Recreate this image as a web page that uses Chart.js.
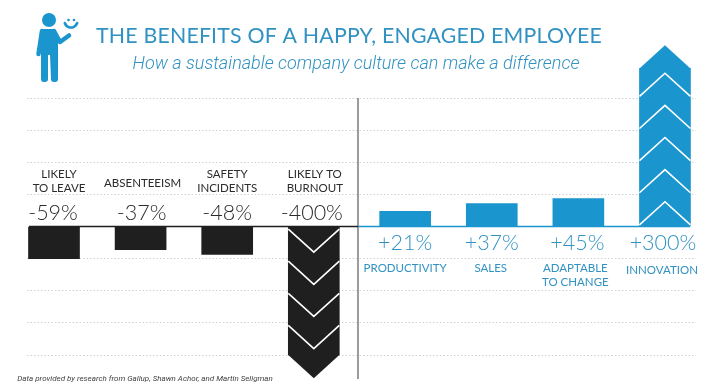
<!DOCTYPE html>
<html><head><meta charset="utf-8">
<style>html,body{margin:0;padding:0;background:#fff}#w{position:relative;width:719px;height:391px}</style>
<script src="https://cdn.jsdelivr.net/npm/chart.js@4"></script>
</head><body><div id="w"><canvas id="c" width="719" height="391"></canvas></div>
<script>
const titleText = 'THE BENEFITS OF A HAPPY, ENGAGED EMPLOYEE';
const subtitleText = 'How a sustainable company culture can make a difference';
const sourceText = 'Data provided by research from Gallup, Shawn Achor, and Martin Seligman';
const categories = ['LIKELY|TO LEAVE','ABSENTEEISM','SAFETY|INCIDENTS','LIKELY TO|BURNOUT','PRODUCTIVITY','SALES','ADAPTABLE|TO CHANGE','INNOVATION'];
const percentLabels = ['-59%','-37%','-48%','-400%','+21%','+37%','+45%','+300%'];
// bar lengths as drawn in the picture, read against the dotted grid (one grid step = 100)
const barLengths = [-100,-72,-87,-400,47,71,87,492];
const yTicks = [-400,-300,-200,-100,0,100,200,300,400];

const BLUE='#1b95ce', BLACK='#1f1f1f', TEXTBLUE='#3192c2', DARK='#2b2b2b';
const SLOT_SHIFT=0.055, CHEVRON=72;
const barColor = barLengths.map(v=>v<0?BLACK:BLUE);
const isArrow = i => percentLabels[i]==='-400%'||percentLabels[i]==='+300%';

function txt(ctx,s,x,y,font,color,spacing){
  ctx.font=font;ctx.fillStyle=color;ctx.textAlign='center';ctx.textBaseline='alphabetic';
  ctx.letterSpacing=(spacing||0)+'px';ctx.fillText(s,x,y);ctx.letterSpacing='0px';
}
const catNudge=[5,2,0,1,0,-1,-3,-3];
const pctNudge=[-1,1,0,-2,0,0,-1,-2];
const backdrop={id:'lines',
  beforeDatasetsDraw(chart){
    const {ctx,chartArea:a}=chart;
    ctx.save();
    ctx.strokeStyle='#9c9c9c';ctx.lineWidth=2;ctx.beginPath();ctx.moveTo(358,a.top);ctx.lineTo(358,379);ctx.stroke();
    ctx.restore();
  },
  afterDatasetsDraw(chart){
    const {ctx,scales:{y}}=chart;
    const bars=chart.getDatasetMeta(0).data;
    const y0=y.getPixelForValue(0);
    ctx.save();
    // baseline
    ctx.lineWidth=1.6;
    ctx.strokeStyle=BLACK;ctx.beginPath();ctx.moveTo(29,y0);ctx.lineTo(358,y0);ctx.stroke();
    ctx.strokeStyle=BLUE;ctx.beginPath();ctx.moveTo(358,y0);ctx.lineTo(690,y0);ctx.stroke();
    // arrow heads and chevrons
    bars.forEach((b,i)=>{
      if(!isArrow(i))return;
      const sign=Math.sign(barLengths[i]);
      const l=b.x-b.width/2,r=b.x+b.width/2;
      const end=barLengths[i];
      ctx.fillStyle=barColor[i];
      ctx.beginPath();ctx.moveTo(l,y.getPixelForValue(end));
      ctx.lineTo(b.x,y.getPixelForValue(end+sign*CHEVRON));
      ctx.lineTo(r,y.getPixelForValue(end));ctx.closePath();ctx.fill();
      ctx.strokeStyle='#fff';ctx.lineWidth=1.6;
      const start=sign<0?-8:5;
      for(let v=start;Math.abs(v)<Math.abs(end)-20;v+=sign*100){
        const ve=y.getPixelForValue(v), vt=y.getPixelForValue(v+sign*CHEVRON);
        ctx.beginPath();ctx.moveTo(l,ve);ctx.lineTo(b.x,vt);ctx.lineTo(r,ve);ctx.stroke();
      }
    });
    ctx.restore();
  },
  afterDraw(chart){
    const {ctx,scales:{y}}=chart;
    const bars=chart.getDatasetMeta(0).data;
    const y0=y.getPixelForValue(0);
    ctx.save();
    txt(ctx,titleText,349,43,'21.3px Lato',TEXTBLUE,0.2);
    txt(ctx,subtitleText,356,69,'italic 300 18px Roboto',TEXTBLUE,0);
    txt(ctx,sourceText,145,381,'italic 8px Roboto','#444',0);
    bars.forEach((b,i)=>{
      const lines=categories[i].split('|');
      const neg=barLengths[i]<0;
      const c=neg?DARK:TEXTBLUE;
      txt(ctx,percentLabels[i],b.x+pctNudge[i],neg?y0-7:y0+23,'300 21.5px Lato',c,0);
      const cx=b.x+catNudge[i];
      if(neg){
        const base=lines.length===2?y0-49:y0-40;
        lines.forEach((t,k)=>txt(ctx,t,cx,base+k*14,'11.5px Lato',c,0));
      }else{
        const base=i===7?y0+47:y0+45;
        lines.forEach((t,k)=>txt(ctx,t,cx,base+k*14,'11.5px Lato',c,0));
      }
    });
    // person icon
    ctx.fillStyle=BLUE;ctx.strokeStyle=BLUE;ctx.lineCap='round';ctx.lineJoin='round';
    ctx.beginPath();ctx.arc(49,20,7,0,Math.PI*2);ctx.fill();
    ctx.beginPath();ctx.moveTo(41,29);ctx.lineTo(55,29);ctx.lineTo(58,40);ctx.lineTo(58,79);
    ctx.quadraticCurveTo(58,82,55,82);ctx.lineTo(54,82);ctx.quadraticCurveTo(51,82,51,79);
    ctx.lineTo(50,55);ctx.lineTo(48,55);ctx.lineTo(48,79);ctx.quadraticCurveTo(48,82,45,82);
    ctx.lineTo(44,82);ctx.quadraticCurveTo(41,82,41,79);ctx.closePath();ctx.fill();
    ctx.lineWidth=4.5;
    ctx.beginPath();ctx.moveTo(42,31);ctx.lineTo(38.5,54);ctx.stroke();
    ctx.beginPath();ctx.moveTo(54,31);ctx.lineTo(60,42);ctx.lineTo(69,35.5);ctx.stroke();
    ctx.lineWidth=2.6;ctx.beginPath();ctx.arc(71,21,6.5,0.1*Math.PI,0.9*Math.PI);ctx.stroke();
    ctx.beginPath();ctx.arc(68.5,20,1.3,0,7);ctx.fill();
    ctx.beginPath();ctx.arc(74,20,1.3,0,7);ctx.fill();
    ctx.restore();
  }
};

new Chart(document.getElementById('c'),{
  type:'bar',
  data:{datasets:[{
    data:barLengths.map((v,i)=>({x:i+(i>=4?SLOT_SHIFT:0),y:v})),
    backgroundColor:barColor,
    barThickness:51,
    clip:false,
    borderWidth:0
  }]},
  options:{
    responsive:false,animation:false,
    layout:{padding:{top:98,left:27,right:23,bottom:36}},
    plugins:{legend:{display:false},tooltip:{enabled:false},title:{display:false}},
    scales:{
      x:{type:'linear',display:false,offset:false,min:-27/86.6,max:-27/86.6+669/86.6},
      y:{min:-400,max:400,
        afterBuildTicks(s){s.ticks=yTicks.map(v=>({value:v}));},
        ticks:{display:false},
        border:{display:false,dash:[1.5,2]},
        grid:{color:c=>c.tick&&c.tick.value===0?'rgba(0,0,0,0)':'#d0d0d0',drawTicks:false,lineWidth:1}
      }
    }
  },
  plugins:[backdrop]
});
</script></body></html>
